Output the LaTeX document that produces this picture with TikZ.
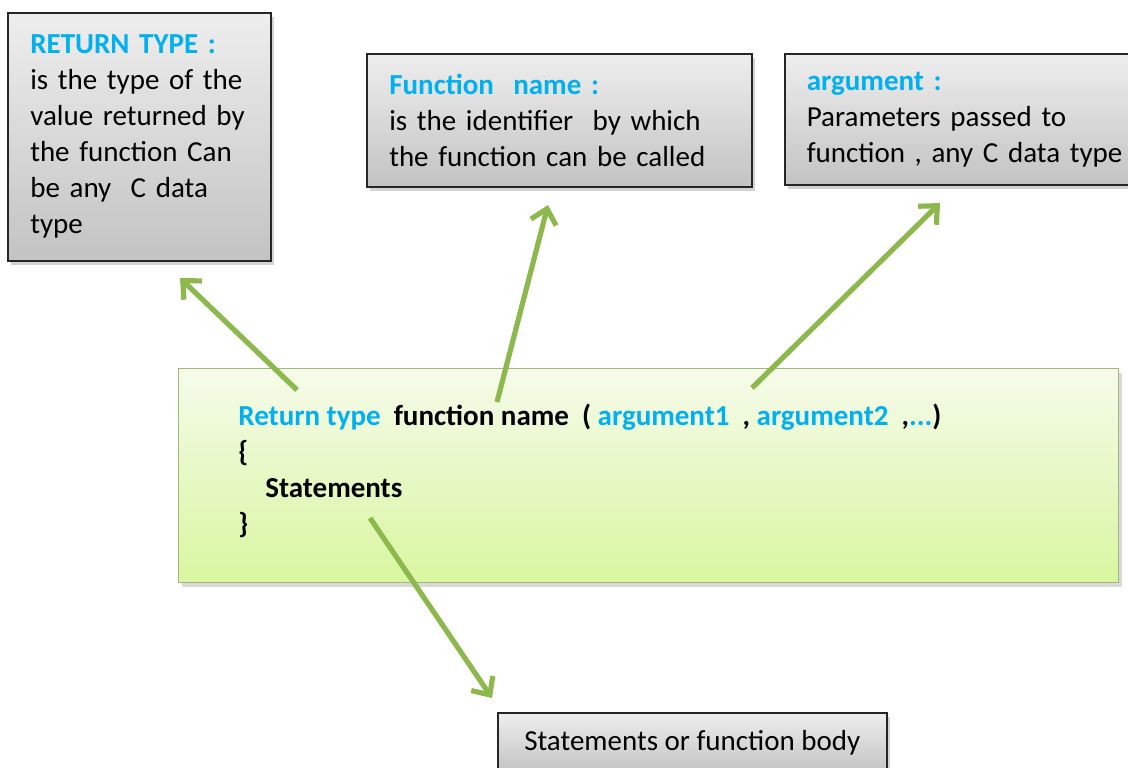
\documentclass[tikz,border=0pt]{standalone}
\usepackage{fontspec}
\setmainfont{Carlito}
\usetikzlibrary{arrows.meta,positioning,shadows}
\definecolor{tagblue}{RGB}{0,176,240}
\definecolor{arrgreen}{RGB}{141,184,78}
\definecolor{notetop}{RGB}{238,238,238}
\definecolor{notebot}{RGB}{195,195,195}
\definecolor{prototop}{RGB}{246,251,234}
\definecolor{protobot}{RGB}{216,246,160}
\definecolor{protoline}{RGB}{160,185,120}

\begin{document}
\begin{tikzpicture}[x=0.5pt, y=-0.5pt,
  note/.style={draw=black!85, line width=0.8pt, top color=notetop, bottom color=notebot,
    drop shadow={shadow xshift=1.5pt, shadow yshift=-2pt, opacity=0.35},
    anchor=north west, align=left, inner xsep=11pt,
    font=\fontsize{14.5}{18}\selectfont},
  protobox/.style={draw=protoline, line width=0.6pt, top color=prototop, bottom color=protobot,
    drop shadow={shadow xshift=1.5pt, shadow yshift=-2pt, opacity=0.3},
    anchor=north west},
  pointer/.style={-{Straight Barb[length=7pt, width=13pt]}, arrgreen, line width=2.6pt},
  tag/.style={text=tagblue}]
\useasboundingbox (0,0) rectangle (1128,767);

% explanation boxes
\node[note, minimum width=131.5pt, minimum height=124pt, text width=109pt] (rettype) at (7,12)
  {\textcolor{tagblue}{\bfseries RETURN TYPE :}\\is the type of the\\value returned by\\the function Can\\be any\ \ C data\\type};
\node[note, minimum width=192.5pt, minimum height=66.5pt, text width=170pt] (fname) at (366,53)
  {\textcolor{tagblue}{\bfseries Function\ \ name :}\\is the identifier\ \ by which\\the function can be called};
\node[note, minimum width=180pt, minimum height=65.5pt, text width=158pt] (arg) at (784,53)
  {\textcolor{tagblue}{\bfseries argument :}\\Parameters passed to\\function , any C data type};

% prototype box
\node[protobox, minimum width=470pt, minimum height=107pt] (proto) at (178,368) {};
\node[anchor=north west, align=left, inner sep=0pt, font=\fontsize{14.5}{18}\selectfont\bfseries] (code) at (238,404)
  {\textcolor{tagblue}{Return type}\ \ function name\ \ ( \textcolor{tagblue}{argument1}\ \ , \textcolor{tagblue}{argument2}\ \ ,\textcolor{tagblue}{...})\\
   \{\\
   \hspace*{13.5pt}Statements\\
   \}};

% body box
\node[note, minimum width=194.5pt, minimum height=30pt, align=center] (body) at (497,712)
  {Statements or function body};

% pointers
\coordinate (rt-tail) at (297,390);
\coordinate (rt-head) at (180,278);
\coordinate (fn-tail) at (497,402);
\coordinate (fn-head) at (548,205);
\coordinate (ar-tail) at (752,388);
\coordinate (ar-head) at (940,203);
\coordinate (st-tail) at (370,518);
\coordinate (st-head) at (492,698);
\draw[pointer] (rt-tail) -- (rt-head);
\draw[pointer] (fn-tail) -- (fn-head);
\draw[pointer] (ar-tail) -- (ar-head);
\draw[pointer] (st-tail) -- (st-head);
\end{tikzpicture}
\end{document}
